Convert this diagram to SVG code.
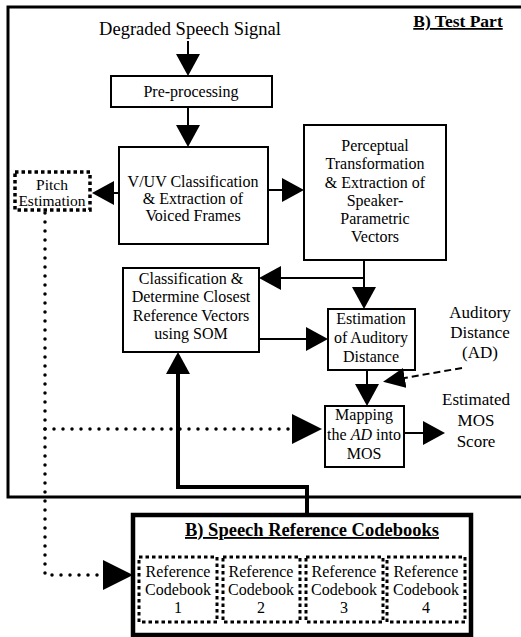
<svg xmlns="http://www.w3.org/2000/svg" width="521" height="637" viewBox="0 0 521 637">
<style>
text{font-family:"Liberation Serif","Times New Roman",serif;fill:#000;text-anchor:middle}
.t{font-size:16px}
.l{font-size:18px}
.a{font-size:17px}
.b{font-weight:bold;text-decoration:underline}
.box{fill:#fff;stroke:#000;stroke-width:2}
.dbox{fill:#fff;stroke:#000;stroke-width:3.5;stroke-dasharray:3.5 3}
.c{fill:none;stroke:#000;stroke-width:2}
.thick{fill:none;stroke:#000;stroke-width:4}
.dot{fill:none;stroke:#000;stroke-width:3.5;stroke-linecap:round;stroke-dasharray:0 9}
.dash{fill:none;stroke:#000;stroke-width:2;stroke-dasharray:7 4}
</style>
<defs>
<marker id="ah" markerUnits="userSpaceOnUse" viewBox="0 0 22 24" refX="18" refY="12" markerWidth="22" markerHeight="24" orient="auto"><path d="M0,0L22,12L0,24z" fill="#000"/></marker>
<marker id="ahb" markerUnits="userSpaceOnUse" viewBox="0 0 30 30" refX="26" refY="15" markerWidth="30" markerHeight="30" orient="auto"><path d="M0,0L30,15L0,30z" fill="#000"/></marker>
<marker id="ahs" markerUnits="userSpaceOnUse" viewBox="0 0 22 20" refX="18" refY="10" markerWidth="22" markerHeight="20" orient="auto"><path d="M0,0L22,10L0,20z" fill="#000"/></marker>
</defs>
<rect width="521" height="637" fill="#fff"/>
<g id="test-part">
<path d="M522,7H8V497H522" fill="none" stroke="#000" stroke-width="3"/>
<text class="l b" x="458" y="27" style="font-size:17.5px">B) Test Part</text>
</g>
<g id="input-label"><text class="l" x="190" y="35" style="font-size:18.5px">Degraded Speech Signal</text></g>
<g id="pre"><rect class="box" x="111" y="76" width="161" height="31"/><text class="t" x="191" y="97">Pre-processing</text></g>
<g id="vuv"><rect class="box" x="119" y="147" width="149" height="97"/>
<text class="t" x="193" y="187">V/UV Classification</text><text class="t" x="193" y="204">&amp; Extraction of</text><text class="t" x="193" y="221">Voiced Frames</text></g>
<g id="pitch"><rect class="dbox" x="15" y="172" width="75" height="38"/><text class="t" x="52" y="190" style="font-size:15.5px">Pitch</text><text class="t" x="52" y="206" style="font-size:15.5px">Estimation</text></g>
<g id="percep"><rect class="box" x="304" y="125" width="142" height="135"/>
<text class="t" x="375" y="151">Perceptual</text><text class="t" x="375" y="169">Transformation</text><text class="t" x="375" y="188">&amp; Extraction of</text><text class="t" x="375" y="206">Speaker-</text><text class="t" x="375" y="224">Parametric</text><text class="t" x="375" y="242">Vectors</text></g>
<g id="classif"><rect class="box" x="123" y="268" width="136" height="84"/>
<text class="t" x="191" y="284">Classification &amp;</text><text class="t" x="191" y="302">Determine Closest</text><text class="t" x="191" y="321">Reference Vectors</text><text class="t" x="191" y="339">using SOM</text></g>
<g id="estim"><rect class="box" x="328" y="309" width="87" height="61"/>
<text class="t" x="371" y="324">Estimation</text><text class="t" x="371" y="343">of Auditory</text><text class="t" x="371" y="362">Distance</text></g>
<g id="ad-label"><text class="a" x="480" y="318">Auditory</text><text class="a" x="480" y="338">Distance</text><text class="a" x="480" y="358">(AD)</text></g>
<g id="mapping"><rect class="box" x="325" y="406" width="79" height="61"/>
<text class="t" x="364" y="420">Mapping</text><text class="t" x="364" y="440">the <tspan font-style="italic">AD</tspan> into</text><text class="t" x="364" y="459">MOS</text></g>
<g id="mos-label"><text class="a" x="476" y="405">Estimated</text><text class="a" x="476" y="426">MOS</text><text class="a" x="476" y="447">Score</text></g>
<g id="codebooks"><rect x="133" y="515" width="338" height="120" fill="#fff" stroke="#000" stroke-width="4.5"/>
<text class="b" x="312" y="536" style="font-size:18.5px">B) Speech Reference Codebooks</text>
<g id="cb1"><rect class="dbox" x="139" y="557" width="78" height="65" style="stroke-width:3"/><text class="t" x="178" y="577">Reference</text><text class="t" x="178" y="595">Codebook</text><text class="t" x="178" y="613">1</text></g>
<g id="cb2"><rect class="dbox" x="223" y="557" width="77" height="65" style="stroke-width:3"/><text class="t" x="261" y="577">Reference</text><text class="t" x="261" y="595">Codebook</text><text class="t" x="261" y="613">2</text></g>
<g id="cb3"><rect class="dbox" x="306" y="557" width="77" height="65" style="stroke-width:3"/><text class="t" x="344" y="577">Reference</text><text class="t" x="344" y="595">Codebook</text><text class="t" x="344" y="613">3</text></g>
<g id="cb4"><rect class="dbox" x="387" y="557" width="78" height="65" style="stroke-width:3"/><text class="t" x="426" y="577">Reference</text><text class="t" x="426" y="595">Codebook</text><text class="t" x="426" y="613">4</text></g>
</g>
<g id="connectors">
<path class="c" d="M188,41V72" marker-end="url(#ah)"/>
<path class="c" d="M188,107V143" marker-end="url(#ah)"/>
<path class="c" d="M119,193H96" marker-end="url(#ah)"/>
<path class="c" d="M268,190H300" marker-end="url(#ah)"/>
<path class="c" d="M364,260V305" marker-end="url(#ah)"/>
<path class="c" d="M364,278H263" marker-end="url(#ah)"/>
<path class="c" d="M259,339H324" marker-end="url(#ah)"/>
<path class="c" d="M367,370V402" marker-end="url(#ah)"/>
<path class="c" d="M404,433H441" marker-end="url(#ah)"/>
<path class="dash" d="M462,368L387,381" marker-end="url(#ahs)"/>
<path class="thick" d="M307,515V487H178V356" marker-end="url(#ah)"/>
<path class="dot" d="M45,213V575H129" marker-end="url(#ahb)"/>
<path class="dot" d="M45,429H318" marker-end="url(#ahb)"/>
</g>
</svg>
